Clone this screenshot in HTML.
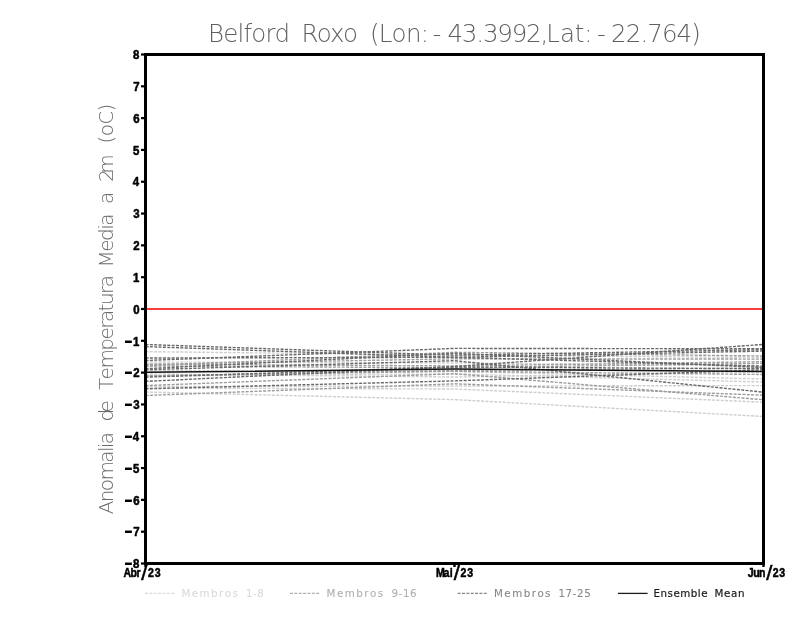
<!DOCTYPE html>
<html lang="pt"><head><meta charset="utf-8"><title>Belford Roxo</title>
<style>
html,body{margin:0;padding:0;background:#fff}
svg{display:block}
text{font-family:"Liberation Sans",sans-serif}
.th{font-family:"DejaVu Sans Light","Liberation Sans",sans-serif}
.tk{font-weight:bold;fill:#000;stroke:#000;stroke-width:.55px;stroke-linejoin:round}
.lg{font-family:"DejaVu Sans","Liberation Sans",sans-serif}
</style></head><body>
<svg width="800" height="618" viewBox="0 0 800 618">
<rect width="800" height="618" fill="#fff"/>
<text class="th" x="208.0 223.2 237.5 243.4 251.2 265.4 274.6 292.2 301.4 316.8 330.1 343.0 360.6 369.9 378.7 391.6 405.9 420.7 432.6 447.4 461.8 476.2 482.9 497.3 511.7 526.1 540.5 546.3 559.9 574.8 584.3 596.9 611.1 625.8 640.4 647.3 661.9 676.6 691.3" font-size="24.5" y="41.5" fill="#606060">Belford Roxo (Lon:-43.3992,Lat:-22.764)</text>
<text class="th" x="-0.3 11.8 22.8 33.4 51.2 61.9 65.8 69.7 84.0 92.6 101.6 115.4 124.0 134.6 145.4 163.3 174.5 185.2 191.9 202.6 208.9 220.0 226.7 240.2 246.5 262.2 273.1 284.3 288.3 302.1 309.9 323.4 332.0 340.3 362.2 370.6 377.7 389.2 402.5" font-size="20" transform="translate(113.3,514) rotate(-90)" y="0" fill="#6a6a6a">Anomalia de Temperatura Media a 2m (oC)</text>
<g>
<polyline points="145.5,351.6 454.5,355.2 763.5,357.5" fill="none" stroke="#cecece" stroke-width="1.4" stroke-dasharray="3 1.36"/>
<polyline points="145.5,362 454.5,363 763.5,366" fill="none" stroke="#cecece" stroke-width="1.4" stroke-dasharray="3 1.36"/>
<polyline points="145.5,370.7 454.5,371.3 763.5,379" fill="none" stroke="#cecece" stroke-width="1.4" stroke-dasharray="3 1.36"/>
<polyline points="145.5,375.9 454.5,374 763.5,382" fill="none" stroke="#cecece" stroke-width="1.4" stroke-dasharray="3 1.36"/>
<polyline points="145.5,386.5 454.5,386 763.5,385.6" fill="none" stroke="#cecece" stroke-width="1.4" stroke-dasharray="3 1.36"/>
<polyline points="145.5,392 454.5,399.6 763.5,416.5" fill="none" stroke="#cecece" stroke-width="1.4" stroke-dasharray="3 1.36"/>
<polyline points="145.5,388 454.5,389 763.5,402.2" fill="none" stroke="#cecece" stroke-width="1.4" stroke-dasharray="3 1.36"/>
<polyline points="145.5,374 454.5,377 763.5,372" fill="none" stroke="#cecece" stroke-width="1.4" stroke-dasharray="3 1.36"/>
<polyline points="145.5,364.5 454.5,358.8 763.5,359.1" fill="none" stroke="#9c9c9c" stroke-width="1.4" stroke-dasharray="3 1.36"/>
<polyline points="145.5,364.2 454.5,365.9 763.5,361.7" fill="none" stroke="#9c9c9c" stroke-width="1.4" stroke-dasharray="3 1.36"/>
<polyline points="145.5,366 454.5,367.8 763.5,363.3" fill="none" stroke="#9c9c9c" stroke-width="1.4" stroke-dasharray="3 1.36"/>
<polyline points="145.5,385.6 454.5,373.7 763.5,399.8" fill="none" stroke="#9c9c9c" stroke-width="1.4" stroke-dasharray="3 1.36"/>
<polyline points="145.5,395.5 454.5,383.8 763.5,395.2" fill="none" stroke="#9c9c9c" stroke-width="1.4" stroke-dasharray="3 1.36"/>
<polyline points="145.5,376 454.5,370.5 763.5,368.0" fill="none" stroke="#9c9c9c" stroke-width="1.4" stroke-dasharray="3 1.36"/>
<polyline points="145.5,366.1 454.5,352.3 763.5,356" fill="none" stroke="#9c9c9c" stroke-width="1.4" stroke-dasharray="3 1.36"/>
<polyline points="145.5,375.9 454.5,371.3 763.5,374.5" fill="none" stroke="#9c9c9c" stroke-width="1.4" stroke-dasharray="3 1.36"/>
<polyline points="145.5,344.5 454.5,355.2 763.5,349.7" fill="none" stroke="#686868" stroke-width="1.4" stroke-dasharray="3 1.36"/>
<polyline points="145.5,346.6 454.5,357.3 763.5,351.1" fill="none" stroke="#686868" stroke-width="1.4" stroke-dasharray="3 1.36"/>
<polyline points="145.5,360.5 454.5,348.4 763.5,348.8" fill="none" stroke="#686868" stroke-width="1.4" stroke-dasharray="3 1.36"/>
<polyline points="145.5,358.0 454.5,357.3 763.5,366.2" fill="none" stroke="#686868" stroke-width="1.4" stroke-dasharray="3 1.36"/>
<polyline points="145.5,368.7 454.5,353.3 763.5,367.5" fill="none" stroke="#686868" stroke-width="1.4" stroke-dasharray="3 1.36"/>
<polyline points="145.5,381.4 454.5,366.5 763.5,344.4" fill="none" stroke="#686868" stroke-width="1.4" stroke-dasharray="3 1.36"/>
<polyline points="145.5,369.7 454.5,360.7 763.5,392.2" fill="none" stroke="#686868" stroke-width="1.4" stroke-dasharray="3 1.36"/>
<polyline points="145.5,377.2 454.5,366.9 763.5,368.8" fill="none" stroke="#686868" stroke-width="1.4" stroke-dasharray="3 1.36"/>
<polyline points="145.5,388.8 454.5,380.9 763.5,369.8" fill="none" stroke="#686868" stroke-width="1.4" stroke-dasharray="3 1.36"/>
<polyline points="145.5,372.3 454.5,369.1 763.5,371.5" fill="none" stroke="#111" stroke-width="1.5"/>
</g>
<rect x="147" y="308" width="615" height="2" fill="#fa3c3c"/>
<rect x="145.5" y="54.5" width="618" height="509" fill="none" stroke="#000" stroke-width="3"/>
<rect x="141" y="562.40" width="4" height="2.2" fill="#000"/>
<text class="tk" font-size="13" transform="scale(0.88,1)" x="140.51 151.24" y="572.31 568.25"><tspan font-size="32" font-weight="normal" stroke="none">-</tspan>8</text>
<rect x="141" y="530.59" width="4" height="2.2" fill="#000"/>
<text class="tk" font-size="13" transform="scale(0.88,1)" x="140.51 151.41" y="540.50 536.44"><tspan font-size="32" font-weight="normal" stroke="none">-</tspan>7</text>
<rect x="141" y="498.77" width="4" height="2.2" fill="#000"/>
<text class="tk" font-size="13" transform="scale(0.88,1)" x="140.51 151.31" y="508.69 504.62"><tspan font-size="32" font-weight="normal" stroke="none">-</tspan>6</text>
<rect x="141" y="466.96" width="4" height="2.2" fill="#000"/>
<text class="tk" font-size="13" transform="scale(0.88,1)" x="140.51 151.20" y="476.87 472.81"><tspan font-size="32" font-weight="normal" stroke="none">-</tspan>5</text>
<rect x="141" y="435.15" width="4" height="2.2" fill="#000"/>
<text class="tk" font-size="13" transform="scale(0.88,1)" x="140.51 150.91" y="445.06 441.00"><tspan font-size="32" font-weight="normal" stroke="none">-</tspan>4</text>
<rect x="141" y="403.34" width="4" height="2.2" fill="#000"/>
<text class="tk" font-size="13" transform="scale(0.88,1)" x="140.51 151.31" y="413.25 409.19"><tspan font-size="32" font-weight="normal" stroke="none">-</tspan>3</text>
<rect x="141" y="371.52" width="4" height="2.2" fill="#000"/>
<text class="tk" font-size="13" transform="scale(0.88,1)" x="140.51 151.36" y="381.44 377.38"><tspan font-size="32" font-weight="normal" stroke="none">-</tspan>2</text>
<rect x="141" y="339.71" width="4" height="2.2" fill="#000"/>
<text class="tk" font-size="13" transform="scale(0.88,1)" x="140.51 151.20" y="349.62 345.56"><tspan font-size="32" font-weight="normal" stroke="none">-</tspan>1</text>
<rect x="141" y="307.90" width="4" height="2.2" fill="#000"/>
<text class="tk" font-size="13" transform="scale(0.88,1)" x="151.37" y="313.75">0</text>
<rect x="141" y="276.09" width="4" height="2.2" fill="#000"/>
<text class="tk" font-size="13" transform="scale(0.88,1)" x="151.20" y="281.94">1</text>
<rect x="141" y="244.28" width="4" height="2.2" fill="#000"/>
<text class="tk" font-size="13" transform="scale(0.88,1)" x="151.36" y="250.12">2</text>
<rect x="141" y="212.46" width="4" height="2.2" fill="#000"/>
<text class="tk" font-size="13" transform="scale(0.88,1)" x="151.31" y="218.31">3</text>
<rect x="141" y="180.65" width="4" height="2.2" fill="#000"/>
<text class="tk" font-size="13" transform="scale(0.88,1)" x="150.91" y="186.50">4</text>
<rect x="141" y="148.84" width="4" height="2.2" fill="#000"/>
<text class="tk" font-size="13" transform="scale(0.88,1)" x="151.20" y="154.69">5</text>
<rect x="141" y="117.03" width="4" height="2.2" fill="#000"/>
<text class="tk" font-size="13" transform="scale(0.88,1)" x="151.31" y="122.88">6</text>
<rect x="141" y="85.21" width="4" height="2.2" fill="#000"/>
<text class="tk" font-size="13" transform="scale(0.88,1)" x="151.41" y="91.06">7</text>
<rect x="141" y="53.40" width="4" height="2.2" fill="#000"/>
<text class="tk" font-size="13" transform="scale(0.88,1)" x="151.24" y="59.25">8</text>
<rect x="144.3" y="564" width="2.4" height="3" fill="#000"/>
<rect x="453.3" y="564" width="2.4" height="3" fill="#000"/>
<rect x="762.3" y="564" width="2.4" height="3" fill="#000"/>
<text class="tk" font-size="13.2" transform="scale(0.8,1)" x="154.24 163.05 170.53 177.17 184.99 193.48" y="577.50 577.50 577.50 580.30 577.50 577.50">Abr<tspan font-size="19.5" font-style="italic">/</tspan>23</text>
<text class="tk" font-size="13.2" transform="scale(0.8,1)" x="544.88 554.47 562.24 567.79 575.49 583.92" y="577.50 577.50 577.50 580.30 577.50 577.50">Mai<tspan font-size="19.5" font-style="italic">/</tspan>23</text>
<text class="tk" font-size="13.2" transform="scale(0.8,1)" x="934.74 941.49 948.88 958.42 965.86 973.92" y="577.50 577.50 577.50 580.30 577.50 577.50">Jun<tspan font-size="19.5" font-style="italic">/</tspan>23</text>
<line x1="145" y1="593.4" x2="174.4" y2="593.4" stroke="#dadada" stroke-width="1.3" stroke-dasharray="3 1.36"/>
<text class="lg" x="181.4 191.8 199.6 211.1 219.1 224.8 232.6 240.7 245.9 252.9 257.2" font-size="10.3" y="596.7" fill="#dadada" stroke="#dadada" stroke-width="0.1">Membros 1-8</text>
<line x1="290" y1="593.4" x2="319.4" y2="593.4" stroke="#b0b0b0" stroke-width="1.3" stroke-dasharray="3 1.36"/>
<text class="lg" x="326.6 337.0 344.8 356.3 364.3 370.0 377.8 385.8 391.4 398.5 402.9 410.1" font-size="10.3" y="596.7" fill="#b0b0b0" stroke="#b0b0b0" stroke-width="0.1">Membros 9-16</text>
<line x1="457.6" y1="593.4" x2="487" y2="593.4" stroke="#888888" stroke-width="1.3" stroke-dasharray="3 1.36"/>
<text class="lg" x="494.0 504.3 512.2 523.7 531.7 537.4 545.1 553.2 558.4 565.6 572.8 577.1 584.3" font-size="10.3" y="596.7" fill="#888888" stroke="#888888" stroke-width="0.1">Membros 17-25</text>
<line x1="618" y1="593.4" x2="647.6" y2="593.4" stroke="#1c1c1c" stroke-width="1.3"/>
<text class="lg" x="653.4 660.4 667.5 673.4 680.2 690.8 697.8 701.2 709.7 714.5 724.0 731.0 737.9" font-size="10.3" y="596.7" fill="#1c1c1c" stroke="#1c1c1c" stroke-width="0.2">Ensemble Mean</text>
</svg></body></html>
